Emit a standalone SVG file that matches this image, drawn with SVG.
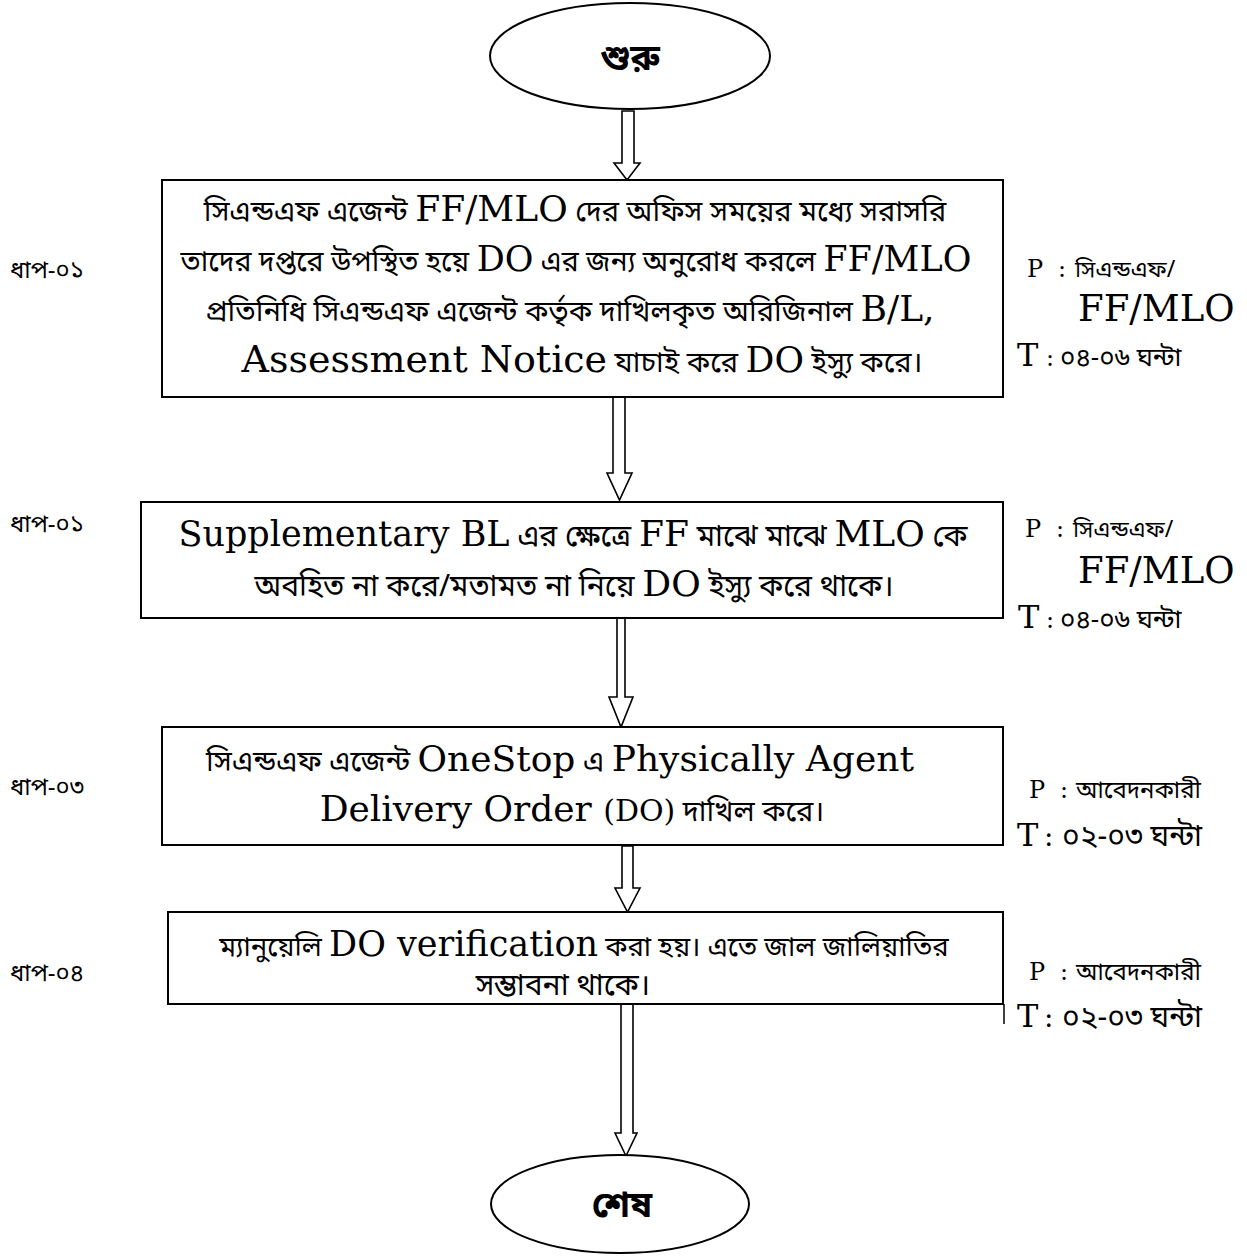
<svg xmlns="http://www.w3.org/2000/svg" width="1247" height="1256" viewBox="0 0 1247 1256">
<style>
.bg{fill:#fff}
.shape{fill:#fff;stroke:#000;stroke-width:2}
.arrow{fill:#fff;stroke:#000;stroke-width:1.6;stroke-linejoin:miter}
text{fill:#000}
.c{text-anchor:middle}
.bn{font-family:"Noto Sans Bengali","Noto Serif Bengali","Lohit Bengali","FreeSerif","Noto Sans",sans-serif;font-size:29px}
.en{font-family:"DejaVu Serif",serif;font-size:36px}
.bnb{font-family:"Noto Sans Bengali","Noto Serif Bengali","Lohit Bengali","FreeSerif","Noto Sans",sans-serif;font-size:36px;font-weight:bold}
.step{font-family:"Noto Sans Bengali","Noto Serif Bengali","Lohit Bengali","FreeSerif","Noto Sans",sans-serif;font-size:24px}
.p{font-family:"DejaVu Serif",serif;font-size:24px}
.t{font-family:"DejaVu Serif",serif;font-size:32px}
.big{font-family:"DejaVu Serif",serif;font-size:37px}
.side{font-family:"Noto Sans Bengali","Noto Serif Bengali","Lohit Bengali","FreeSerif","Noto Sans",sans-serif;font-size:23px}
.sideT{font-family:"Noto Sans Bengali","Noto Serif Bengali","Lohit Bengali","FreeSerif","Noto Sans",sans-serif;font-size:26px}
</style>
<rect class="bg" x="0" y="0" width="1247" height="1256"/>

<g id="connectors">
  <polygon class="arrow" points="622,111 634,111 634,163 640,163 627,180 614,163 622,163"/>
  <polygon class="arrow" points="613,396 625,396 625,473 632,473 619.5,500 607,473 613,473"/>
  <polygon class="arrow" points="617,607 625,607 625,697 633,697 621,727 609,697 617,697"/>
  <polygon class="arrow" points="622,846 633,846 633,888 640,888 627.5,912 615,888 622,888"/>
  <polygon class="arrow" points="621,1004 633,1004 633,1133 637,1133 626,1156 615,1133 621,1133"/>
</g>

<g id="start">
  <ellipse class="shape" cx="630" cy="56" rx="140" ry="53"/>
  <text class="bnb c" x="630" y="70">শুরু</text>
</g>

<g id="step1">
  <rect class="shape" x="162" y="180" width="841" height="217"/>
  <text class="c" x="575" y="221"><tspan class="bn">সিএন্ডএফ এজেন্ট </tspan><tspan class="en">FF/MLO</tspan><tspan class="bn"> দের অফিস সময়ের মধ্যে সরাসরি</tspan></text>
  <text class="c" x="576" y="271"><tspan class="bn" style="font-size:28.5px">তাদের দপ্তরে উপস্থিত হয়ে </tspan><tspan class="en" style="font-size:35px">DO</tspan><tspan class="bn" style="font-size:28.5px"> এর জন্য অনুরোধ করলে </tspan><tspan class="en" style="font-size:35px">FF/MLO</tspan></text>
  <text class="c" x="570" y="321"><tspan class="bn">প্রতিনিধি সিএন্ডএফ এজেন্ট কর্তৃক দাখিলকৃত অরিজিনাল </tspan><tspan class="en">B/L,</tspan></text>
  <text class="c" x="582" y="372"><tspan class="en" style="font-size:38px">Assessment Notice</tspan><tspan class="bn"> যাচাই করে </tspan><tspan class="en">DO</tspan><tspan class="bn"> ইস্যু করে।</tspan></text>
</g>
<g id="step1-label"><text class="step" x="10" y="278">ধাপ-০১</text></g>
<g id="step1-side">
  <text x="1027" y="277"><tspan class="p">P</tspan><tspan class="p" x="1058">:</tspan><tspan class="side" x="1075">সিএন্ডএফ/</tspan></text>
  <text class="big" x="1078" y="321">FF/MLO</text>
  <text x="1017" y="366"><tspan class="t">T</tspan><tspan class="p" x="1046">:</tspan><tspan class="sideT" x="1060">০৪-০৬ ঘন্টা</tspan></text>
</g>

<g id="step2">
  <rect class="shape" x="141" y="502" width="862" height="116"/>
  <text class="c" x="573" y="546"><tspan class="en" style="font-size:35px">Supplementary BL</tspan><tspan class="bn" style="font-size:30px"> এর ক্ষেত্রে  </tspan><tspan class="en">FF</tspan><tspan class="bn" style="font-size:30px"> মাঝে মাঝে </tspan><tspan class="en">MLO</tspan><tspan class="bn" style="font-size:30px"> কে</tspan></text>
  <text class="c" x="574" y="596"><tspan class="bn" style="font-size:30px">অবহিত না করে/মতামত না নিয়ে </tspan><tspan class="en">DO</tspan><tspan class="bn" style="font-size:30px"> ইস্যু করে থাকে।</tspan></text>
</g>
<g id="step2-label"><text class="step" x="10" y="532">ধাপ-০১</text></g>
<g id="step2-side">
  <text x="1025" y="537"><tspan class="p">P</tspan><tspan class="p" x="1056">:</tspan><tspan class="side" x="1073">সিএন্ডএফ/</tspan></text>
  <text class="big" x="1078" y="583">FF/MLO</text>
  <text x="1018" y="628"><tspan class="t">T</tspan><tspan class="p" x="1046">:</tspan><tspan class="sideT" x="1060">০৪-০৬ ঘন্টা</tspan></text>
</g>

<g id="step3">
  <rect class="shape" x="162" y="727" width="841" height="118"/>
  <text class="c" x="560" y="771"><tspan class="bn">সিএন্ডএফ এজেন্ট </tspan><tspan class="en">OneStop</tspan><tspan class="bn"> এ </tspan><tspan class="en">Physically Agent</tspan></text>
  <text class="c" x="572" y="821"><tspan class="en">Delivery Order </tspan><tspan class="en" style="font-size:30px">(DO)</tspan><tspan class="bn"> দাখিল করে।</tspan></text>
</g>
<g id="step3-label"><text class="step" x="10" y="795">ধাপ-০৩</text></g>
<g id="step3-side">
  <text x="1029" y="798"><tspan class="p">P</tspan><tspan class="p" x="1060">:</tspan><tspan class="side" x="1076" style="font-size:24px">আবেদনকারী</tspan></text>
  <text x="1017" y="846"><tspan class="t">T</tspan><tspan class="t" x="1044" style="font-size:28px">:</tspan><tspan class="sideT" x="1062" style="font-size:30px">০২-০৩ ঘন্টা</tspan></text>
</g>

<g id="step4">
  <rect class="shape" x="168" y="912" width="835" height="92"/>
  <line x1="1004" y1="1004" x2="1004" y2="1024" stroke="#000" stroke-width="1.5"/>
  <text class="c" x="584" y="956"><tspan class="bn" style="font-size:27.5px">ম্যানুয়েলি </tspan><tspan class="en" style="font-size:35px">DO verification</tspan><tspan class="bn" style="font-size:27.5px"> করা হয়। এতে জাল জালিয়াতির</tspan></text>
  <text class="c" x="563" y="995"><tspan class="bn" style="font-size:30px">সম্ভাবনা থাকে।</tspan></text>
</g>
<g id="step4-label"><text class="step" x="10" y="981">ধাপ-০৪</text></g>
<g id="step4-side">
  <text x="1029" y="980"><tspan class="p">P</tspan><tspan class="p" x="1060">:</tspan><tspan class="side" x="1076" style="font-size:24px">আবেদনকারী</tspan></text>
  <text x="1017" y="1027"><tspan class="t">T</tspan><tspan class="t" x="1044" style="font-size:28px">:</tspan><tspan class="sideT" x="1062" style="font-size:30px">০২-০৩ ঘন্টা</tspan></text>
</g>

<g id="end">
  <ellipse class="shape" cx="620" cy="1204" rx="129" ry="49"/>
  <text class="bnb c" x="622" y="1217">শেষ</text>
</g>
</svg>
